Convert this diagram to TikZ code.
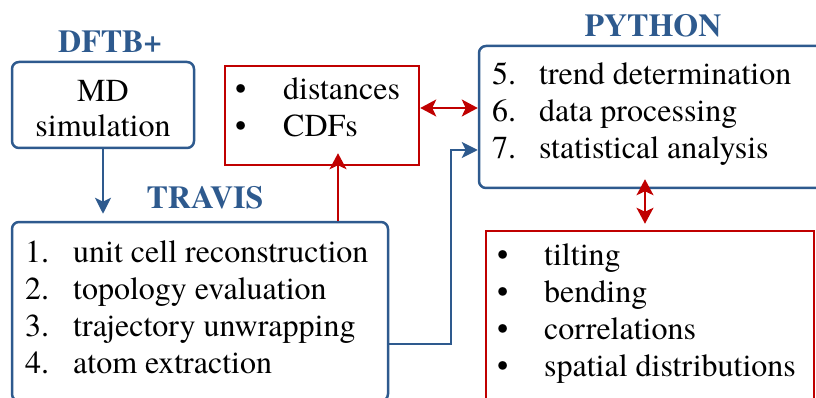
\documentclass[tikz,border=0pt]{standalone}
\usepackage{fontspec}
\setmainfont{TeX Gyre Termes}
\usetikzlibrary{arrows.meta}
\definecolor{myblue}{HTML}{2E5A8E}
\definecolor{myred}{HTML}{C00000}
\tikzset{
  bluebox/.style={draw=myblue, line width=2.5pt, rounded corners=7pt, inner sep=0pt},
  redbox/.style={draw=myred, line width=2.5pt, inner sep=0pt},
  txt/.style={font=\fontsize{32}{37}\selectfont, inner sep=0pt, anchor=base west},
  ttl/.style={font=\bfseries\fontsize{32}{38}\selectfont, text=myblue, inner sep=0pt, anchor=base},
  bluearrow/.style={draw=myblue, line width=2pt, -{Stealth[length=16pt,width=16pt,inset=4pt]}},
  redarrow/.style={draw=myred, line width=2pt, -{Stealth[length=16pt,width=17pt,inset=4pt]}},
  reddouble/.style={draw=myred, line width=2pt, {Stealth[length=16pt,width=17pt,inset=4pt]}-{Stealth[length=16pt,width=17pt,inset=4pt]}},
}
\begin{document}
\begin{tikzpicture}[x=1pt,y=-1pt]
\useasboundingbox (0,0) rectangle (816,398);
% boxes
\node[bluebox, minimum width=182pt, minimum height=86pt] (md) at (103,105) {};
\node[bluebox, minimum width=376pt, minimum height=179pt] (travis) at (200,311.5) {};
\node[redbox, minimum width=194pt, minimum height=99pt] (cdf) at (322,115.5) {};
\node[bluebox, minimum width=347pt, minimum height=142pt] (python) at (652.5,117) {};
\node[redbox, minimum width=328pt, minimum height=179pt] (bot) at (650,320.5) {};
% titles
\node[ttl] (tdftb) at (110,53) {DFTB+};
\node[ttl] (ttravis) at (205,208) {TRAVIS};
\node[ttl] (tpython) at (653,37) {PYTHON};
% texts
\node[inner sep=0pt, anchor=base, font=\fontsize{32}{35}\selectfont] (mdtext) at (103,102)
  {\begin{tabular}[t]{@{}c@{}}MD\\simulation\end{tabular}};
\node[txt] (travistext) at (25,262)
  {\begin{tabular}[t]{@{}p{48pt}@{}l@{}}1.&unit cell reconstruction\\2.&topology evaluation\\3.&trajectory unwrapping\\4.&atom extraction\end{tabular}};
\node[txt] (cdftext) at (235,100)
  {\begin{tabular}[t]{@{}p{48pt}@{}l@{}}\textbullet&distances\\\textbullet&CDFs\end{tabular}};
\node[txt] (pythontext) at (492,85)
  {\begin{tabular}[t]{@{}p{47pt}@{}l@{}}5.&trend determination\\6.&data processing\\7.&statistical analysis\end{tabular}};
\node[txt] (bottext) at (497,265)
  {\begin{tabular}[t]{@{}p{47pt}@{}l@{}}\textbullet&tilting\\\textbullet&bending\\\textbullet&correlations\\\textbullet&spatial distributions\end{tabular}};
% connectors
\draw[bluearrow] (md.south) -- ([yshift=7pt]md.south |- travis.north);
\draw[redarrow] ([xshift=16pt]cdf.south |- travis.north) -- ([xshift=16pt,yshift=13pt]cdf.south);
\draw[reddouble] ([yshift=7.5pt]cdf.east) -- ([yshift=7.5pt]cdf.east -| python.west);
\draw[bluearrow] ([yshift=-32pt]travis.east) -| ([xshift=-27pt,yshift=-33pt]python.west) -- ([yshift=-33pt]python.west);
\draw[reddouble] ([xshift=-7.5pt,yshift=10pt]python.south) -- ([xshift=-7.5pt,yshift=6pt]python.south |- bot.north);
\end{tikzpicture}
\end{document}
